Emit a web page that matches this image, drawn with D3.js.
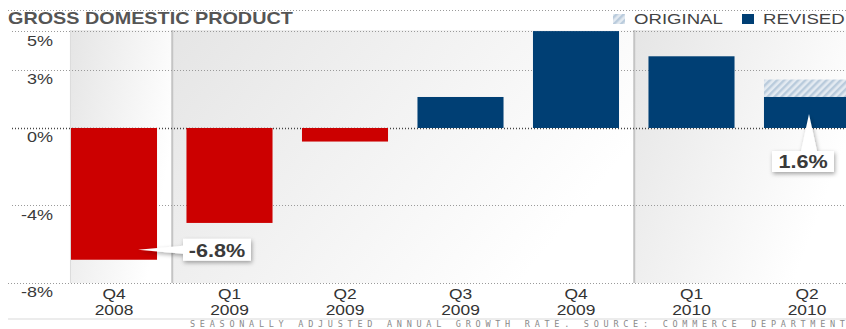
<!DOCTYPE html>
<html>
<head>
<meta charset="utf-8">
<script src="https://cdn.jsdelivr.net/npm/d3@7"></script>
<style>
  html, body { margin: 0; padding: 0; background: #fff; }
  svg { display: block; font-family: "Liberation Sans", Arial, sans-serif; }
</style>
</head>
<body>
<svg id="chart" width="846" height="329"></svg>
<script>
// Quarterly GDP growth, seasonally adjusted annual rate (%)
const quarters = ["Q4", "Q1", "Q2", "Q3", "Q4", "Q1", "Q2"];
const years    = ["2008", "2009", "2009", "2009", "2009", "2010", "2010"];
const revised  = [-6.8, -4.9, -0.7, 1.6, 5.0, 3.7, 1.6];
const original = [null, null, null, null, null, null, 2.5];
const yTicks   = [5, 3, 0, -4, -8];
// bars whose value gets a callout, and which side the pointer comes from
const calloutIndex = [0, 6];
const calloutSide  = ["left", "up"];

const W = 846, H = 329;
const SX = 1.2; // horizontal stretch of the lettering
const svg = d3.select("#chart");
const defs = svg.append("defs");

const x = d3.scaleBand()
  .domain(d3.range(quarters.length))
  .range([56.25, 864.75])
  .paddingInner(0.255)
  .paddingOuter(0.1275);
const y = d3.scaleLinear().domain([-8, 5]).range([283, 31.1]);

const step = x.step();
const gapHalf = step * x.paddingInner() / 2;

// ---- defs: panel gradients, hatch, shadow
const grad = defs.append("linearGradient").attr("id", "panelGrad")
  .attr("x1", 0).attr("y1", 0).attr("x2", 1).attr("y2", 0.45);
grad.append("stop").attr("offset", "0%").attr("stop-color", "#e5e5e5");
grad.append("stop").attr("offset", "100%").attr("stop-color", "#ffffff");

const hatch = defs.append("pattern").attr("id", "hatch")
  .attr("patternUnits", "userSpaceOnUse").attr("width", 5).attr("height", 5)
  .attr("patternTransform", "rotate(-45)");
hatch.append("rect").attr("width", 5).attr("height", 5).attr("fill", "#e3eaf1");
hatch.append("rect").attr("width", 5).attr("height", 2.4).attr("fill", "#b9cbdc");

const shadow = defs.append("filter").attr("id", "shadow")
  .attr("x", "-30%").attr("y", "-40%").attr("width", "160%").attr("height", "190%");
shadow.append("feDropShadow").attr("dx", 1).attr("dy", 2)
  .attr("stdDeviation", 2).attr("flood-color", "#000").attr("flood-opacity", 0.35);

// ---- background panels, one per year
const yearGroups = d3.groups(d3.range(years.length), i => years[i]);
const panelTop = y(5) - 1, panelBottom = y(-8);
yearGroups.forEach(([yr, idx], k) => {
  const first = idx[0], last = idx[idx.length - 1];
  const x0 = k === 0 ? x(first) - 1 : x(first) - gapHalf;
  const x1 = k === yearGroups.length - 1 ? W : x(last) + x.bandwidth() + gapHalf;
  svg.append("rect")
    .attr("x", x0).attr("y", panelTop)
    .attr("width", x1 - x0).attr("height", panelBottom - panelTop)
    .attr("fill", "url(#panelGrad)");
  svg.append("line")
    .attr("x1", x0 + 0.5).attr("x2", x0 + 0.5)
    .attr("y1", panelTop).attr("y2", panelBottom)
    .attr("stroke", k === 0 ? "#dcdcdc" : "#c4c4c4")
    .attr("stroke-width", k === 0 ? 1 : 2);
});

// ---- gridlines
const grid = svg.append("g");
grid.selectAll("line").data(yTicks).join("line")
  .attr("x1", d => d === -8 ? 8 : 12).attr("x2", W)
  .attr("y1", d => Math.round(y(d)) + 0.5).attr("y2", d => Math.round(y(d)) + 0.5)
  .attr("stroke", d => d === 0 ? "#444" : "#9a9a9a")
  .attr("stroke-width", d => d === 0 ? 1.4 : 1)
  .attr("stroke-dasharray", "1,2");
// header rule
svg.append("line").attr("x1", 8).attr("x2", W).attr("y1", 10.5).attr("y2", 10.5)
  .attr("stroke", "#9a9a9a").attr("stroke-dasharray", "1,2");

// ---- bars
const bars = svg.append("g");
bars.selectAll("rect.orig").data(original.map((v, i) => ({v, i})).filter(d => d.v != null))
  .join("rect").attr("class", "orig")
  .attr("x", d => x(d.i)).attr("width", x.bandwidth())
  .attr("y", d => y(Math.max(0, d.v))).attr("height", d => Math.abs(y(d.v) - y(0)))
  .attr("fill", "url(#hatch)");
bars.selectAll("rect.rev").data(revised.map((v, i) => ({v, i})))
  .join("rect").attr("class", "rev")
  .attr("x", d => x(d.i)).attr("width", x.bandwidth())
  .attr("y", d => y(Math.max(0, d.v))).attr("height", d => Math.abs(y(d.v) - y(0)))
  .attr("fill", d => d.v < 0 ? "#cc0000" : "#003f74");

// ---- y axis labels
const yAxis = svg.append("g").attr("transform", "translate(53,0)")
  .call(d3.axisLeft(y).tickValues(yTicks).tickSize(0).tickFormat(d => d + "%"));
yAxis.select(".domain").remove();
yAxis.selectAll("text")
  .attr("x", 0).attr("dy", null).attr("y", 14)
  .attr("text-anchor", "end")
  .attr("transform", `scale(${SX},1)`)
  .attr("font-family", "Liberation Sans, Arial, sans-serif")
  .attr("font-size", 15).attr("fill", "#3a3a3a");

// ---- x axis labels (quarter over year)
const xAxis = svg.append("g").attr("transform", `translate(0,${y(-8)})`)
  .call(d3.axisBottom(x).tickSize(0).tickFormat(() => ""));
xAxis.select(".domain").remove();
xAxis.selectAll(".tick text").each(function(i) {
  const t = d3.select(this)
    .attr("y", 0).attr("dy", null)
    .attr("text-anchor", "middle")
    .attr("transform", `scale(${SX},1)`)
    .attr("font-family", "Liberation Sans, Arial, sans-serif")
    .attr("font-size", 14.5).attr("fill", "#333");
  t.append("tspan").attr("x", 0).attr("y", 16.5).text(quarters[i]);
  t.append("tspan").attr("x", 0).attr("y", 32).text(years[i]);
});

// ---- callouts
const callG = svg.append("g");
calloutIndex.forEach((i, k) => {
  const v = revised[i];
  const label = v.toFixed(1) + "%";
  const cx = x(i) + x.bandwidth() / 2;
  let tipX, tipY, bx, by, bw, bh, path;
  if (calloutSide[k] === "left") {
    bw = 68; bh = 22;
    tipX = cx + 24; tipY = y(v) - 10;
    bx = tipX + 45; by = tipY - 11;
    path = `M${bx},${by} H${bx + bw} V${by + bh} H${bx} V${tipY + 4} L${tipX},${tipY} L${bx},${tipY - 4} Z`;
  } else {
    bw = 62; bh = 21;
    tipX = cx + 2; tipY = y(v) + 17;
    bx = tipX - 37; by = tipY + 37;
    path = `M${bx},${by} H${tipX - 8} L${tipX},${tipY} L${tipX + 8},${by} H${bx + bw} V${by + bh} H${bx} Z`;
  }
  callG.append("path").attr("d", path).attr("fill", "#fff").attr("filter", "url(#shadow)");
  callG.append("text")
    .attr("transform", `translate(${bx + bw / 2},${by + bh - 4}) scale(${SX},1)`)
    .attr("text-anchor", "middle")
    .attr("font-size", 18).attr("font-weight", "bold").attr("fill", "#3a3a3a")
    .text(label);
});

// ---- title and legend
svg.append("text")
  .attr("transform", `translate(8,24) scale(${SX},1)`)
  .attr("font-size", 16.5).attr("font-weight", "bold").attr("fill", "#555")
  .text("GROSS DOMESTIC PRODUCT");

const legend = [
  {label: "ORIGINAL", fill: "url(#hatch)", x: 613},
  {label: "REVISED", fill: "#003f74", x: 742}
];
legend.forEach(d => {
  svg.append("rect").attr("x", d.x).attr("y", 14).attr("width", 12).attr("height", 10)
    .attr("fill", d.fill);
  svg.append("text")
    .attr("transform", `translate(${d.x + 21},24) scale(${SX},1)`)
    .attr("font-size", 15.5).attr("fill", "#444")
    .text(d.label);
});

// ---- footer
svg.append("line").attr("x1", 8).attr("x2", W).attr("y1", 319).attr("y2", 319)
  .attr("stroke", "#ececec").attr("stroke-width", 2);
svg.append("text")
  .attr("x", 190).attr("y", 327)
  .attr("font-family", "DejaVu Sans Mono, monospace")
  .attr("font-size", 8.5).attr("fill", "#8a8a8a")
  .attr("textLength", 655).attr("lengthAdjust", "spacing")
  .text("SEASONALLY ADJUSTED ANNUAL GROWTH RATE. SOURCE: COMMERCE DEPARTMENT");
</script>
</body>
</html>
